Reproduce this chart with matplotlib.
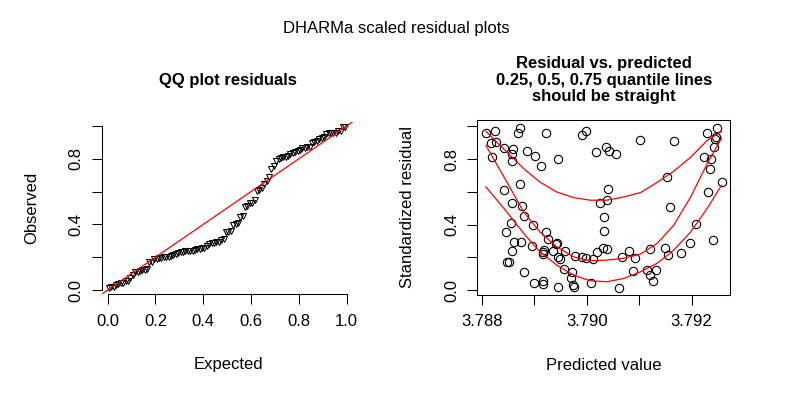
import numpy as np
import matplotlib
matplotlib.use('Agg')
import matplotlib.pyplot as plt

plt.rcParams['font.family'] = ['Liberation Sans', 'DejaVu Sans']
plt.rcParams['font.size'] = 12

# predicted values and scaled residuals
pred = [3.78808, 3.78825, 3.78817, 3.78827, 3.78873, 3.78869, 3.78923, 3.78998, 3.78992, 3.78843,
        3.78860, 3.78857, 3.78819, 3.78857, 3.78886, 3.78902, 3.78913, 3.78946, 3.79017, 3.79036,
        3.79043, 3.79056, 3.78873, 3.78843, 3.79040, 3.79025, 3.79039, 3.78857, 3.78876, 3.78880,
        3.78856, 3.78846, 3.78898, 3.78922, 3.78862, 3.78875, 3.78857, 3.78896, 3.78926, 3.78942,
        3.78936, 3.78919, 3.78917, 3.78959, 3.78946, 3.78950, 3.78978, 3.78991, 3.78999, 3.79012,
        3.79020, 3.79031, 3.79038, 3.79034, 3.79034, 3.78848, 3.78852, 3.78880, 3.78956, 3.78972,
        3.78971, 3.78974, 3.78976, 3.78900, 3.78916, 3.78917, 3.78946, 3.79009, 3.79101, 3.79166,
        3.79230, 3.79248, 3.79244, 3.79242, 3.79224, 3.79237, 3.79235, 3.79154, 3.79258, 3.79232,
        3.79158, 3.79209, 3.79240, 3.79197, 3.79180, 3.79150, 3.79155, 3.79120, 3.79080, 3.79068,
        3.79093, 3.79088, 3.79115, 3.79133, 3.79120, 3.79126, 3.79061, 3.78944, 3.79246, 3.78917]

resid = [0.959, 0.971, 0.898, 0.904, 0.992, 0.959, 0.959, 0.970, 0.949, 0.868,
         0.864, 0.834, 0.813, 0.787, 0.852, 0.819, 0.758, 0.803, 0.843, 0.874,
         0.848, 0.829, 0.648, 0.610, 0.620, 0.529, 0.549, 0.529, 0.514, 0.451,
         0.407, 0.352, 0.396, 0.352, 0.295, 0.295, 0.240, 0.270, 0.311, 0.279,
         0.240, 0.244, 0.220, 0.240, 0.203, 0.189, 0.207, 0.199, 0.197, 0.189,
         0.230, 0.254, 0.248, 0.362, 0.447, 0.173, 0.173, 0.112, 0.126, 0.112,
         0.071, 0.030, 0.020, 0.041, 0.055, 0.037, 0.016, 0.045, 0.919, 0.910,
         0.959, 0.992, 0.925, 0.874, 0.813, 0.799, 0.738, 0.691, 0.663, 0.602,
         0.508, 0.402, 0.305, 0.285, 0.226, 0.254, 0.213, 0.250, 0.238, 0.203,
         0.197, 0.118, 0.122, 0.122, 0.091, 0.057, 0.010, 0.287, 0.933, 0.232]

# quantile curves
q_x = [3.78808, 3.78848, 3.78880, 3.78911, 3.78943, 3.78975, 3.79007, 3.79039,
       3.79071, 3.79103, 3.79135, 3.79166, 3.79198, 3.79230, 3.79257]
q25 = [0.630, 0.477, 0.346, 0.234, 0.152, 0.091, 0.057, 0.051,
       0.071, 0.112, 0.165, 0.244, 0.354, 0.500, 0.640]
q50 = [0.884, 0.660, 0.477, 0.355, 0.264, 0.203, 0.179, 0.183,
       0.195, 0.220, 0.287, 0.396, 0.567, 0.774, 0.927]
q75 = [0.970, 0.843, 0.742, 0.660, 0.599, 0.565, 0.549, 0.549,
       0.569, 0.596, 0.659, 0.726, 0.811, 0.915, 0.970]

qq_ticks = [0.0, 0.2, 0.4, 0.6, 0.8, 1.0]
qq_xlabels = ['0.0', '0.2', '0.4', '0.6', '0.8', '1.0']
y_labels = ['0.0', '', '0.4', '', '0.8', '']
pred_ticks = [3.788, 3.789, 3.790, 3.791, 3.792]
pred_labels = ['3.788', '', '3.790', '', '3.792']

n = len(resid)
expected = (np.arange(1, n + 1) - 0.5) / n
observed = np.sort(resid)

W, H = 792, 396
fig = plt.figure(figsize=(W / 100, H / 100), dpi=100)

def box(l, t, r, b):
    return [l / W, 1 - b / H, (r - l) / W, (b - t) / H]

def style(ax):
    ax.tick_params(direction='out', length=7.2, width=0.75, labelsize=12, colors='black')
    ax.tick_params(axis='x', pad=7)
    ax.tick_params(axis='y', pad=6)
    for lab in ax.get_yticklabels():
        lab.set_rotation(90)
        lab.set_va('center')

# QQ plot
ax1 = fig.add_axes(box(101.7, 121.7, 355, 294.3))
ax1.plot(expected, observed, linestyle='none', marker='v', mfc='none',
         mec='black', ms=5, mew=0.75)
ax1.axline((0, 0), slope=1, color='red', lw=0.9)
ax1.set_xlim(-0.025, 1.035)
ax1.set_ylim(-0.026, 1.026)
ax1.set_xticks(qq_ticks)
ax1.set_xticklabels(qq_xlabels)
ax1.set_yticks(qq_ticks)
ax1.set_yticklabels(y_labels)
for s in ['top', 'right']:
    ax1.spines[s].set_visible(False)
ax1.spines['left'].set_bounds(0, 1)
ax1.spines['bottom'].set_bounds(0, 1)
for s in ['left', 'bottom']:
    ax1.spines[s].set_linewidth(0.75)
style(ax1)

# residual vs predicted
ax2 = fig.add_axes(box(477.3, 120.3, 730, 294.5))
ax2.plot(pred, resid, linestyle='none', marker='o', mfc='none',
         mec='black', ms=6, mew=0.8)
for q in [q25, q50, q75]:
    ax2.plot(q_x, q, color='red', lw=0.9)
ax2.set_xlim(3.787916, 3.792732)
ax2.set_ylim(-0.027, 1.037)
ax2.set_xticks(pred_ticks)
ax2.set_xticklabels(pred_labels)
ax2.set_yticks(qq_ticks)
ax2.set_yticklabels(y_labels)
for s in ax2.spines.values():
    s.set_linewidth(0.75)
style(ax2)

def ftext(x, y, s, **kw):
    fig.text(x / W, 1 - y / H, s, ha='center', va='center', fontsize=12, **kw)

ftext(396, 28, 'DHARMa scaled residual plots')
ftext(228, 81, 'QQ plot residuals', fontweight='bold')
ftext(604, 80, 'Residual vs. predicted\n0.25, 0.5, 0.75 quantile lines\nshould be straight',
      fontweight='bold', linespacing=1.15)
ftext(228, 365, 'Expected')
ftext(604, 365, 'Predicted value')
ftext(32, 208, 'Observed', rotation=90)
ftext(408, 207, 'Standardized residual', rotation=90)

fig.savefig('out.png', dpi=100)
